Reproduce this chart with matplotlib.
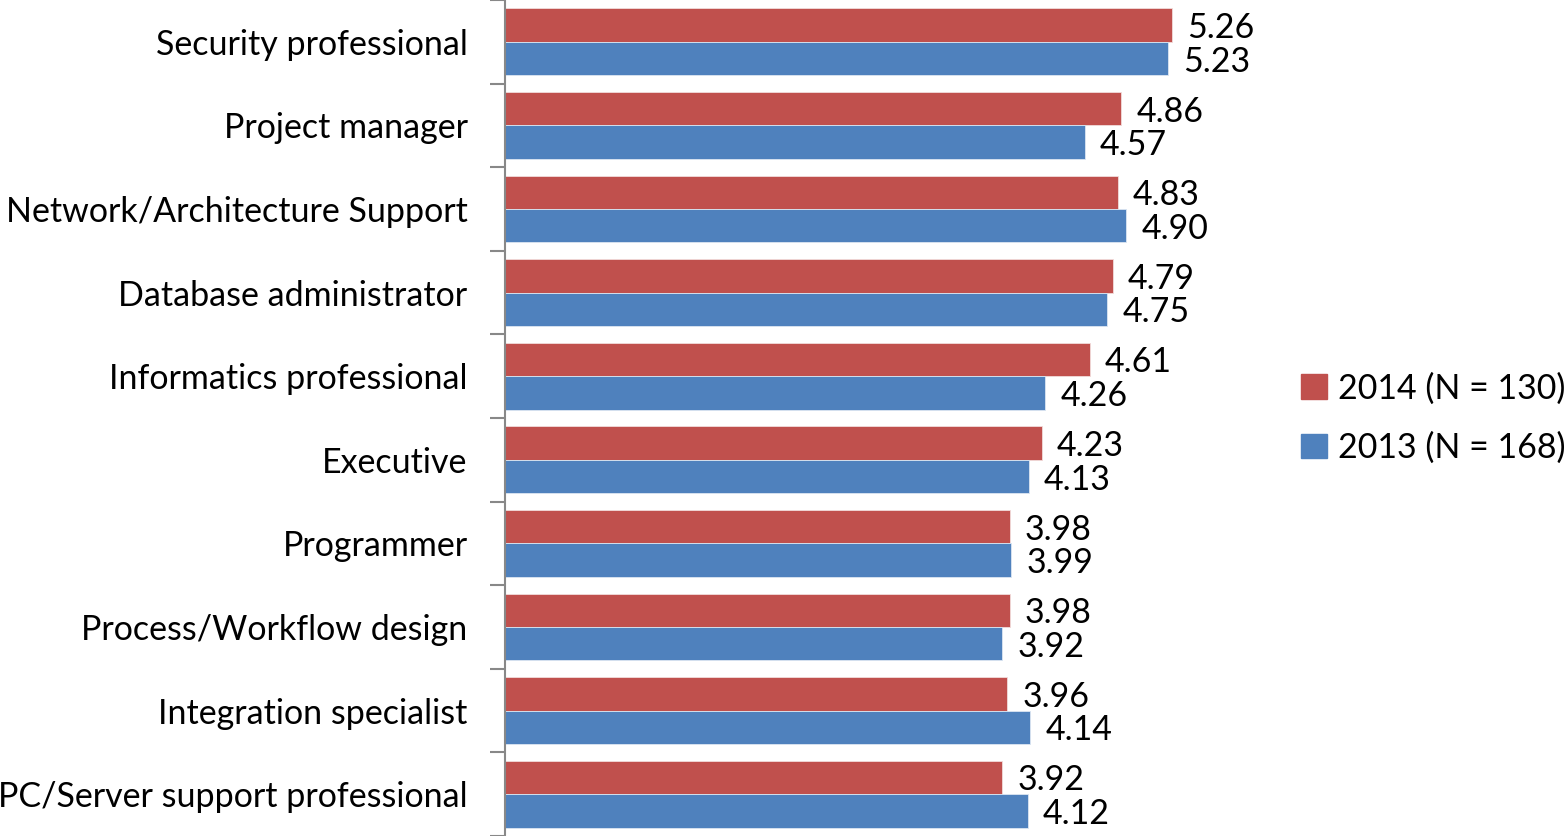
import numpy as np
import matplotlib.pyplot as plt
from matplotlib.patches import Patch

categories = ["Security professional", "Project manager", "Network/Architecture Support",
              "Database administrator", "Informatics professional", "Executive",
              "Programmer", "Process/Workflow design", "Integration specialist",
              "PC/Server support professional"]
vals_2014 = [5.26, 4.86, 4.83, 4.79, 4.61, 4.23, 3.98, 3.98, 3.96, 3.92]
vals_2013 = [5.23, 4.57, 4.90, 4.75, 4.26, 4.13, 3.99, 3.92, 4.14, 4.12]
series_labels = ["2014 (N = 130)", "2013 (N = 168)"]

RED = "#C0504D"
BLUE = "#4F81BD"

plt.rcParams['font.family'] = ['Lato', 'DejaVu Sans']
FS = 24.5

fig = plt.figure(figsize=(15.68, 8.36), dpi=100)
ax = fig.add_axes([505 / 1568, 0.0, 761 / 1568, 1.0])

n = len(categories)
y = np.arange(n)
h = 0.4
ax.barh(y - h / 2, vals_2014, height=h, color=RED, edgecolor="#f2dcdb", linewidth=0.6)
ax.barh(y + h / 2, vals_2013, height=h, color=BLUE, edgecolor="#dce6f2", linewidth=0.6)

for i in range(n):
    ax.text(vals_2014[i] + 0.12, y[i] - h / 2, f"{vals_2014[i]:.2f}", va="center_baseline", ha="left", fontsize=FS)
    ax.text(vals_2013[i] + 0.12, y[i] + h / 2, f"{vals_2013[i]:.2f}", va="center_baseline", ha="left", fontsize=FS)

ax.set_xlim(0, 6)
ax.set_ylim(n - 0.5, -0.5)

ax.set_yticks(y)
ax.set_yticklabels(categories, fontsize=FS)
ax.tick_params(axis="y", which="major", length=0, pad=27)
ax.set_yticks(np.arange(-0.5, n, 1.0), minor=True)
ax.tick_params(axis="y", which="minor", length=11, width=1.5, color="#888888")
ax.set_xticks([])

for s in ["top", "right", "bottom"]:
    ax.spines[s].set_visible(False)
ax.spines["left"].set_color("#888888")
ax.spines["left"].set_linewidth(1.5)

handles = [Patch(facecolor=RED, edgecolor=RED), Patch(facecolor=BLUE, edgecolor=BLUE)]
fig.legend(handles, series_labels, loc="center right", bbox_to_anchor=(1566 / 1568, 0.5),
           frameon=False, fontsize=FS, handlelength=0.75, handleheight=0.75,
           handletextpad=0.35, labelspacing=0.8, borderpad=0, borderaxespad=0)

fig.savefig("out.png", dpi=100)
